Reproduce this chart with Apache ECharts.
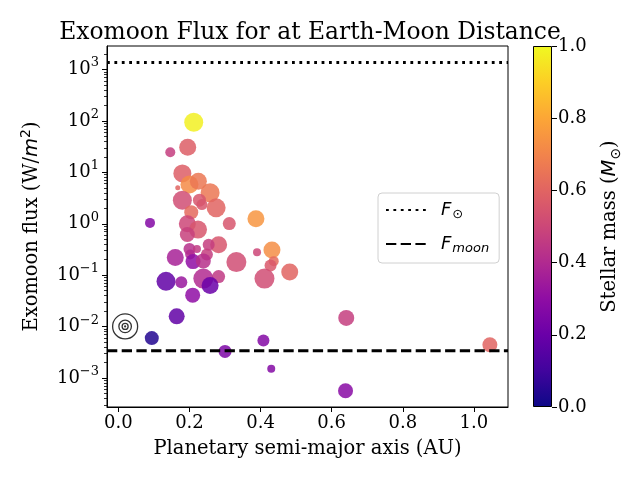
<!DOCTYPE html>
<html><head><meta charset="utf-8">
<script src="https://cdn.jsdelivr.net/npm/echarts@6/dist/echarts.min.js"></script>
<style>html,body{margin:0;padding:0;background:#fff}#c{width:640px;height:480px}</style>
</head><body><div id="c"></div>
<script>
// ---- data ----
const semiMajor = [0.212,0.146,0.195,0.180,0.200,0.225,0.167,0.258,0.180,0.228,0.235,0.275,0.205,0.312,0.387,0.089,0.194,0.224,0.194,0.282,0.254,0.200,0.221,0.249,0.202,0.160,0.210,0.239,0.332,0.390,0.432,0.437,0.428,0.482,0.411,0.134,0.177,0.239,0.282,0.258,0.209,0.164,0.094,0.300,0.408,0.430,0.641,0.639,1.045];
const flux = [94,24.6,30.8,9.5,5.8,6.7,5.0,4.0,2.87,2.87,2.36,2.04,1.67,1.01,1.25,1.04,1.0,0.77,0.62,0.39,0.39,0.325,0.325,0.252,0.252,0.22,0.184,0.19,0.18,0.279,0.31,0.188,0.154,0.115,0.086,0.076,0.073,0.086,0.094,0.063,0.041,0.0159,0.0060,0.0033,0.0054,0.00152,0.0148,0.00057,0.00447];
const stellarMass = [0.98,0.47,0.58,0.58,0.72,0.66,0.60,0.66,0.52,0.55,0.55,0.60,0.62,0.55,0.75,0.27,0.50,0.55,0.48,0.55,0.47,0.42,0.45,0.47,0.40,0.37,0.30,0.42,0.52,0.50,0.73,0.62,0.56,0.60,0.52,0.18,0.33,0.40,0.45,0.20,0.30,0.18,0.04,0.25,0.27,0.27,0.47,0.28,0.60];
const markerSize = [19,10,17,18,18,17,5,19,19,13,11,19,14,13,17,10,17,18,15,17,12,12,8,12,10,17,15,15,20,8,17,10,12,17,20,19,12,20,13,17,15,16,14,13,12,8,16,15,15];
const earthA = [0.019];
const earthFlux = [0.0101];
const fSun = 1361;
const fMoon = 0.00341;
const xTicks = [0, 0.2, 0.4, 0.6, 0.8, 1.0];
const yTicks = [1e-3, 1e-2, 1e-1, 1, 10, 100, 1000];
const cbTicks = [0, 0.2, 0.4, 0.6, 0.8, 1.0];
const plasma = ['#0d0887','#41049d','#6a00a8','#8f0da4','#b12a90','#cc4778','#e16462','#f2844b','#fca636','#fcce25','#f0f921'];

const xMin = -0.032, xMax = 1.096;
const yMin = 2.75e-4, yMax = 2850;
const yMinorTicks = [];
for (let e = -4; e <= 3; e++) for (let k = 2; k <= 9; k++) { const v = k * Math.pow(10, e); if (v > yMin && v < yMax) yMinorTicks.push(v); }

const serif = 'DejaVu Serif', sans = 'DejaVu Sans';
const points = semiMajor.map((a, i) => [a, flux[i], stellarMass[i], markerSize[i]]);
const earthPt = [earthA[0], earthFlux[0]];

const chart = echarts.init(document.getElementById('c'), null, {renderer: 'canvas', width: 640, height: 480});
const supLabel = v => { const e = Math.round(Math.log10(v)); return '{b|10}{e|' + (e < 0 ? '\u2212' + (-e) : e) + '}'; };

chart.setOption({
  animation: false,
  backgroundColor: '#fff',
  title: {
    text: 'Exomoon Flux for at Earth-Moon Distance', left: 305, textAlign: 'center', top: 16,
    textStyle: {fontFamily: serif, fontSize: 23.4, fontWeight: 'normal', color: '#000'}
  },
  grid: [
    {left: 107, top: 46, width: 401, height: 361, show: true, borderColor: '#000', borderWidth: 1, backgroundColor: 'transparent'},
    {left: 533, top: 46, width: 19, height: 361}
  ],
  xAxis: [
    {
      type: 'value', gridIndex: 0, min: xMin, max: xMax,
      axisLine: {show: true, onZero: false, lineStyle: {color: '#000', width: 1}},
      axisTick: {show: true, length: 5, customValues: xTicks, lineStyle: {color: '#000', width: 1}},
      axisLabel: {customValues: xTicks, formatter: v => v.toFixed(1), fontFamily: serif, fontSize: 18, color: '#000', margin: 7},
      splitLine: {show: false},
      name: 'Planetary semi-major axis (AU)', nameLocation: 'middle', nameGap: 32,
      nameTextStyle: {fontFamily: serif, fontSize: 19.5, color: '#000'}
    },
    {type: 'category', gridIndex: 1, data: ['m'], show: false}
  ],
  yAxis: [
    {
      type: 'log', logBase: 10, gridIndex: 0, min: yMin, max: yMax, position: 'left',
      axisLine: {show: true, onZero: false, lineStyle: {color: '#000', width: 1}},
      axisTick: {show: true, length: 5, customValues: yTicks, lineStyle: {color: '#000', width: 1}},
      axisLabel: {
        customValues: yTicks, formatter: supLabel, margin: 8, color: '#000',
        rich: {
          b: {fontFamily: serif, fontSize: 18, lineHeight: 26, color: '#000'},
          e: {fontFamily: serif, fontSize: 13, lineHeight: 13, verticalAlign: 'top', color: '#000'}
        }
      },
      splitLine: {show: false},
      name: 'Exomoon flux (W/{mi|m}{sup|2})', nameLocation: 'middle', nameGap: 62, nameRotate: 90,
      nameTextStyle: {
        fontFamily: serif, fontSize: 19.5, lineHeight: 26, color: '#000',
        rich: {
          mi: {fontFamily: sans, fontStyle: 'italic', fontSize: 19.5, lineHeight: 26, color: '#000'},
          sup: {fontFamily: sans, fontSize: 14, lineHeight: 14, verticalAlign: 'top', color: '#000'}
        }
      }
    },
    {
      type: 'log', logBase: 10, gridIndex: 0, min: yMin, max: yMax, position: 'left',
      axisLine: {show: false, onZero: false},
      axisTick: {show: true, length: 3, customValues: yMinorTicks, lineStyle: {color: '#000', width: 0.8}},
      axisLabel: {show: false}, splitLine: {show: false}
    },
    {
      type: 'value', gridIndex: 1, min: 0, max: 1, interval: 0.2, position: 'right',
      axisLine: {show: false, onZero: false},
      axisTick: {show: true, length: 5, lineStyle: {color: '#000', width: 1}},
      axisLabel: {formatter: v => v.toFixed(1), fontFamily: serif, fontSize: 18, color: '#000', margin: 6},
      splitLine: {show: false},
      name: 'Stellar mass ({mi|M}{sub|\u2299})', nameLocation: 'middle', nameGap: 45, nameRotate: 90,
      nameTextStyle: {
        fontFamily: serif, fontSize: 19.5, lineHeight: 26, color: '#000',
        rich: {
          mi: {fontFamily: sans, fontStyle: 'italic', fontSize: 19.5, lineHeight: 26, color: '#000'},
          sub: {fontFamily: sans, fontSize: 14, lineHeight: 14, verticalAlign: 'bottom', color: '#000'}
        }
      }
    }
  ],
  visualMap: {type: 'continuous', show: false, min: 0, max: 1, dimension: 2, seriesIndex: 0, inRange: {color: plasma}},
  legend: {
    left: 378, top: 193, orient: 'vertical', itemWidth: 40, itemHeight: 14, itemGap: 14,
    padding: [8, 10, 8, 7], borderColor: '#d0d0d0', borderWidth: 1, borderRadius: 4,
    backgroundColor: 'rgba(255,255,255,0.85)',
    data: ['Fsun', 'Fmoon'],
    itemStyle: {color: 'transparent', borderColor: 'transparent', borderWidth: 0},
    formatter: n => n === 'Fsun' ? '{i|F}{o|\u2299}' : '{i|F}{s|moon}',
    textStyle: {
      color: '#000',
      rich: {
        i: {fontFamily: sans, fontStyle: 'italic', fontSize: 18, lineHeight: 22, padding: [0, 1, 0, 10], color: '#000'},
        o: {fontFamily: sans, fontSize: 13, lineHeight: 13, verticalAlign: 'bottom', color: '#000'},
        s: {fontFamily: sans, fontStyle: 'italic', fontSize: 13, lineHeight: 13, verticalAlign: 'bottom', color: '#000'}
      }
    }
  },
  series: [
    {
      type: 'scatter', name: 'planets', xAxisIndex: 0, yAxisIndex: 0, data: points,
      symbolSize: d => d[3], itemStyle: {opacity: 0.85}, z: 2
    },
    {
      type: 'line', name: 'Fsun', xAxisIndex: 0, yAxisIndex: 0, data: [[xMin, fSun], [xMax, fSun]],
      symbol: 'none', showSymbol: false, z: 5,
      lineStyle: {color: '#000', width: 2.8, type: [2.8, 4.6], cap: 'butt'}
    },
    {
      type: 'line', name: 'Fmoon', xAxisIndex: 0, yAxisIndex: 0, data: [[xMin, fMoon], [xMax, fMoon]],
      symbol: 'none', showSymbol: false, z: 5,
      lineStyle: {color: '#000', width: 2.8, type: [10.3, 4.4], cap: 'butt'}
    },
    {
      type: 'scatter', name: 'earth', xAxisIndex: 0, yAxisIndex: 0, z: 4,
      data: [{value: earthPt, symbolSize: 25}, {value: earthPt, symbolSize: 12.5}, {value: earthPt, symbolSize: 6}],
      itemStyle: {color: 'transparent', borderColor: '#000', borderWidth: 1.3}
    },
    {
      type: 'scatter', name: 'earthDot', xAxisIndex: 0, yAxisIndex: 0, z: 4,
      data: [earthPt], symbolSize: 2.2, itemStyle: {color: '#000'}
    },
    {
      type: 'bar', name: 'colorbar', xAxisIndex: 1, yAxisIndex: 2, data: [1], barWidth: '100%', silent: true,
      itemStyle: {
        color: new echarts.graphic.LinearGradient(0, 1, 0, 0, plasma.map((c, i) => ({offset: i / (plasma.length - 1), color: c}))),
        borderColor: '#000', borderWidth: 1
      }
    }
  ]
});
</script>
</body></html>
